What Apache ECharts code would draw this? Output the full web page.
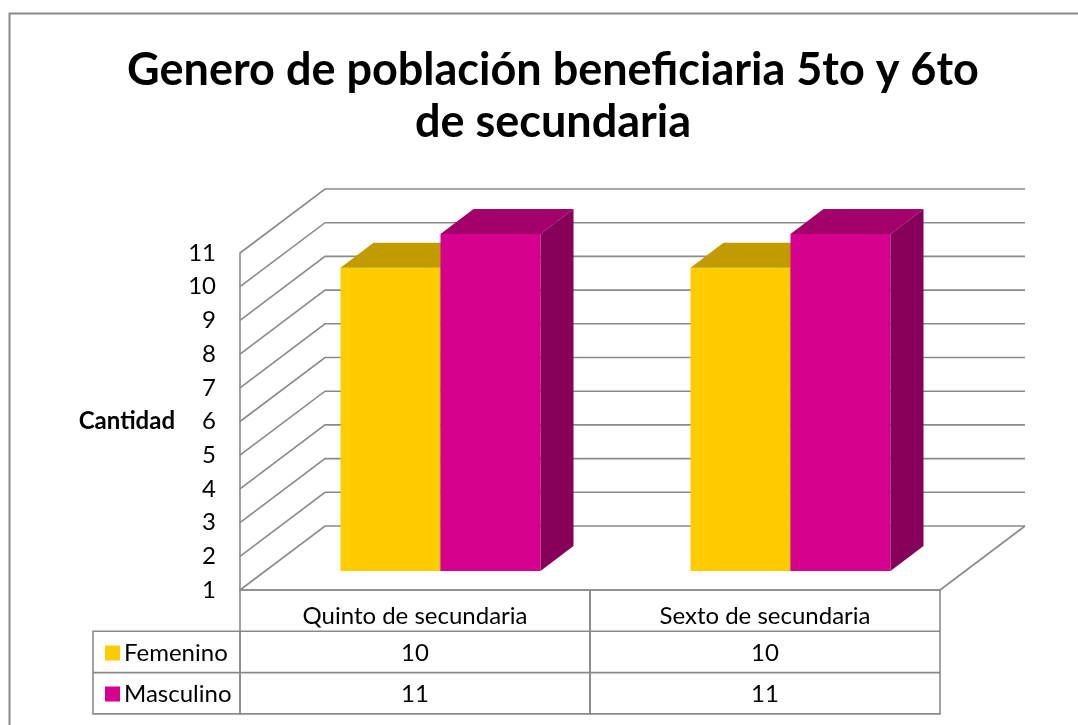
<!DOCTYPE html>
<html>
<head>
<meta charset="utf-8">
<script src="https://cdn.jsdelivr.net/npm/echarts@6/dist/echarts.min.js"></script>
<style>
  html, body { margin: 0; padding: 0; background: #ffffff; }
  #chart { width: 1078px; height: 725px; }
</style>
</head>
<body>
<div id="chart"></div>
<script>
// datos
const categorias = ["Quinto de secundaria", "Sexto de secundaria"];
const femenino = [10, 10];
const masculino = [11, 11];
const yTicks = [1, 2, 3, 4, 5, 6, 7, 8, 9, 10, 11];
const Y_MIN = 1, Y_MAX = 11;

// perspectiva (px)
const DEPTH_X = 85, DEPTH_Y = -64;      // fondo de la pared
const FRONT_X = 25.5, FRONT_Y = -19;    // cara frontal de las barras
const BAR_X = 33, BAR_Y = -25;          // profundidad de la barra
const BAR_FRAC = 2 / 7;
const ROW_H = 41.3;
const LEG_W = 147;
const GRIS = "#8a8a8a";
const FONT = "Lato, 'Open Sans', sans-serif";

const colores = [
  { front: "#ffcc00", top: "#c19b00", side: "#a68500" },
  { front: "#d6008e", top: "#a3006b", side: "#87005a" }
];

const chart = echarts.init(document.getElementById("chart"), null, { renderer: "canvas" });

function barRender(s) {
  return function (params, api) {
    const idx = api.value(0), v = api.value(1);
    const c = api.coord([idx, v]);
    const base = api.coord([idx, Y_MIN]);
    const w = api.size([1, 0])[0] * BAR_FRAC;
    const x0 = c[0] + FRONT_X + (s === 0 ? -w : 0);
    const yT = c[1] + FRONT_Y, yB = base[1] + FRONT_Y;
    const col = colores[s];
    return {
      type: "group",
      children: [
        { type: "rect", shape: { x: x0, y: yT, width: w, height: yB - yT }, style: { fill: col.front } },
        { type: "polygon", shape: { points: [[x0, yT], [x0 + w, yT], [x0 + w + BAR_X, yT + BAR_Y], [x0 + BAR_X, yT + BAR_Y]] }, style: { fill: col.top } },
        { type: "polygon", shape: { points: [[x0 + w, yT], [x0 + w + BAR_X, yT + BAR_Y], [x0 + w + BAR_X, yB + BAR_Y], [x0 + w, yB]] }, style: { fill: col.side } }
      ]
    };
  };
}

function wallRender(params, api) {
  const cs = params.coordSys;
  const v = api.value(0);
  const y = api.coord([0, v])[1];
  const xl = cs.x, xr = cs.x + cs.width;
  const ls = { stroke: GRIS, lineWidth: 1.6, fill: null };
  const kids = [
    { type: "polyline", shape: { points: [[xl, y], [xl + DEPTH_X, y + DEPTH_Y], [xr + DEPTH_X, y + DEPTH_Y]] }, style: ls }
  ];
  if (v === Y_MIN) {
    kids.push({ type: "line", shape: { x1: xr, y1: y, x2: xr + DEPTH_X, y2: y + DEPTH_Y }, style: ls });
  }
  return { type: "group", children: kids };
}

function tableRender(params, api) {
  const cs = params.coordSys;
  const idx = api.value(0);
  const cx = api.coord([idx, Y_MIN])[0];
  const band = api.size([1, 0])[0];
  const x = cx - band / 2;
  const y0 = cs.y + cs.height;
  const ls = { stroke: GRIS, lineWidth: 1.6, fill: null };
  const ts = { fill: "#000", font: "24px " + FONT, textAlign: "center", textVerticalAlign: "middle" };
  const kids = [
    { type: "rect", shape: { x: x, y: y0, width: band, height: 3 * ROW_H }, style: ls },
    { type: "line", shape: { x1: x, y1: y0 + ROW_H, x2: x + band, y2: y0 + ROW_H }, style: ls },
    { type: "line", shape: { x1: x, y1: y0 + 2 * ROW_H, x2: x + band, y2: y0 + 2 * ROW_H }, style: ls },
    { type: "text", style: Object.assign({ text: categorias[idx], x: cx, y: y0 + ROW_H / 2 + 6 }, ts) },
    { type: "text", style: Object.assign({ text: String(api.value(1)), x: cx, y: y0 + 1.5 * ROW_H + 1 }, ts) },
    { type: "text", style: Object.assign({ text: String(api.value(2)), x: cx, y: y0 + 2.5 * ROW_H + 1 }, ts) }
  ];
  if (idx === 0) {
    kids.push({ type: "rect", shape: { x: cs.x - LEG_W, y: y0 + ROW_H, width: LEG_W, height: 2 * ROW_H }, style: ls });
    kids.push({ type: "line", shape: { x1: cs.x - LEG_W, y1: y0 + 2 * ROW_H, x2: cs.x, y2: y0 + 2 * ROW_H }, style: ls });
  }
  return { type: "group", children: kids };
}

const option = {
  backgroundColor: "#ffffff",
  animation: false,
  title: {
    text: "Genero de población beneficiaria 5to y 6to\nde secundaria",
    left: 548,
    textAlign: "center",
    top: 39,
    textStyle: { fontFamily: FONT, fontSize: 45, fontWeight: "bold", color: "#000", lineHeight: 52 }
  },
  graphic: [
    { type: "rect", left: 7, top: 11, shape: { width: 1100, height: 800 }, style: { fill: null, stroke: GRIS, lineWidth: 2 }, silent: true, z: -1 }
  ],
  legend: {
    data: ["Femenino", "Masculino"],
    orient: "vertical",
    left: 100,
    top: 636,
    itemWidth: 15,
    itemHeight: 15,
    itemGap: 17,
    icon: "rect",
    textStyle: { fontFamily: FONT, fontSize: 24, color: "#000", padding: [0, 0, 0, -1] }
  },
  grid: { left: 240, right: 138, top: 253, bottom: 135 },
  xAxis: {
    type: "category",
    data: categorias,
    axisLine: { show: true, lineStyle: { color: GRIS, width: 1.6 } },
    axisTick: { show: false },
    axisLabel: { show: false },
    splitLine: { show: false }
  },
  yAxis: {
    type: "value",
    min: Y_MIN,
    max: Y_MAX,
    interval: 1,
    name: "Cantidad",
    nameLocation: "middle",
    nameRotate: 0,
    nameGap: 65,
    nameTextStyle: { fontFamily: FONT, fontSize: 24, fontWeight: "bold", color: "#000" },
    axisLine: { show: true, lineStyle: { color: GRIS, width: 1.6 } },
    axisTick: { show: false },
    splitLine: { show: false },
    axisLabel: { fontFamily: FONT, fontSize: 24, color: "#000", margin: 24 }
  },
  series: [
    {
      type: "custom", name: "pared", silent: true, z: 1,
      data: yTicks.map(v => [v]),
      encode: { y: 0 },
      renderItem: wallRender
    },
    {
      type: "custom", name: "Femenino", z: 3,
      itemStyle: { color: colores[0].front },
      data: femenino.map((v, i) => [i, v]),
      renderItem: barRender(0)
    },
    {
      type: "custom", name: "Masculino", z: 3,
      itemStyle: { color: colores[1].front },
      data: masculino.map((v, i) => [i, v]),
      renderItem: barRender(1)
    },
    {
      type: "custom", name: "tabla", silent: true, z: 2,
      data: categorias.map((c, i) => [i, femenino[i], masculino[i]]),
      renderItem: tableRender
    }
  ]
};

chart.setOption(option);
</script>
</body>
</html>
